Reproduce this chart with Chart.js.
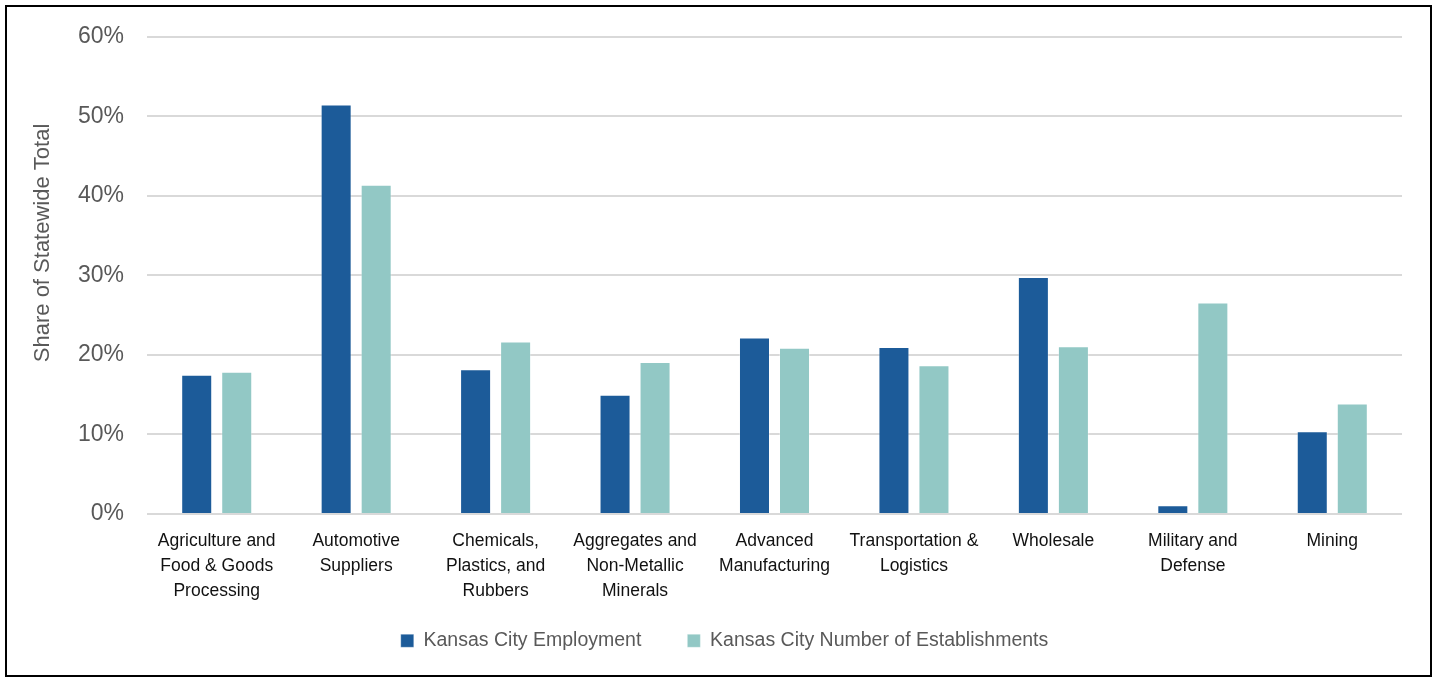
<!DOCTYPE html>
<html>
<head>
<meta charset="utf-8">
<title>Kansas City share of statewide total</title>
<script src="https://cdn.jsdelivr.net/npm/chart.js@4.4.1/dist/chart.umd.min.js"></script>
<style>
  html, body { margin: 0; padding: 0; background: #ffffff; }
  #wrap { position: relative; width: 1437px; height: 677px; overflow: hidden; }
  #c { position: absolute; left: 0; top: 0; width: 1437px; height: 677px; }
  #frame {
    position: absolute; left: 5px; top: 5px; width: 1427px; height: 672px;
    border: 2px solid #000; box-sizing: border-box; pointer-events: none;
  }
</style>
</head>
<body>
<div id="wrap">
  <canvas id="c" width="1437" height="677"></canvas>
  <div id="frame"></div>
</div>
<script>
// Industry groups (multi-line tick labels)
const categories = [
  ["Agriculture and", "Food & Goods", "Processing"],
  ["Automotive", "Suppliers"],
  ["Chemicals,", "Plastics, and", "Rubbers"],
  ["Aggregates and", "Non-Metallic", "Minerals"],
  ["Advanced", "Manufacturing"],
  ["Transportation &", "Logistics"],
  ["Wholesale"],
  ["Military and", "Defense"],
  ["Mining"]
];

// Kansas City share of the statewide total, in percent
const employment     = [17.5, 51.5, 18.2, 15.0, 22.2, 21.0, 29.8, 1.1, 10.4];
const establishments = [17.9, 41.4, 21.7, 19.1, 20.9, 18.7, 21.1, 26.6, 13.9];

const seriesNames = ["Kansas City Employment", "Kansas City Number of Establishments"];
const yMin = 0, yMax = 60, yStep = 10;
const axisTitle = "Share of Statewide Total";

const FONT = '"Liberation Sans", Arial, sans-serif';

// Rotated title beside the value axis
const axisTitlePlugin = {
  id: 'axisTitle',
  afterDraw(chart) {
    const { ctx, chartArea } = chart;
    ctx.save();
    ctx.translate(43, chartArea.top + (chartArea.bottom - chartArea.top) * 0.432);
    ctx.rotate(-Math.PI / 2);
    ctx.font = '22px ' + FONT;
    ctx.fillStyle = '#595959';
    ctx.textAlign = 'center';
    ctx.textBaseline = 'middle';
    ctx.fillText(axisTitle, 0, 0);
    ctx.restore();
  }
};

// Let the three-line category labels run below the axis box without being clipped
const labelRoomPlugin = {
  id: 'labelRoom',
  afterLayout(chart) {
    const x = chart.scales.x;
    x.bottom = x.top + 100;
  }
};

new Chart(document.getElementById('c'), {
  type: 'bar',
  data: {
    labels: categories,
    datasets: [
      {
        label: seriesNames[0],
        data: employment,
        backgroundColor: '#1c5b99',
        borderColor: 'rgba(255,255,255,0.3)',
        borderWidth: 1
      },
      {
        label: seriesNames[1],
        data: establishments,
        backgroundColor: '#92c8c5',
        borderColor: 'rgba(255,255,255,0.3)',
        borderWidth: 1
      }
    ]
  },
  options: {
    responsive: false,
    animation: false,
    devicePixelRatio: 1,
    categoryPercentage: 0.574,
    barPercentage: 0.775,
    layout: { padding: { top: 35, right: 35, bottom: 16.5, left: 47 } },
    plugins: {
      legend: {
        position: 'bottom',
        labels: {
          boxWidth: 13,
          boxHeight: 13,
          padding: 46,
          color: '#595959',
          font: { family: FONT, size: 19.5 }
        }
      },
      tooltip: { enabled: false },
      title: { display: false }
    },
    scales: {
      x: {
        grid: { display: false, drawTicks: false },
        border: { display: false },
        ticks: {
          color: '#111111',
          padding: 14.5,
          autoSkip: false,
          maxRotation: 0,
          minRotation: 0,
          font: { family: FONT, size: 17.5, lineHeight: '25px' }
        },
        afterFit(scale) { scale.height = 71; }
      },
      y: {
        min: yMin,
        max: yMax,
        grid: { color: '#d9d9d9', lineWidth: 2, drawTicks: false },
        border: { display: false },
        ticks: {
          stepSize: yStep,
          color: '#595959',
          padding: 23,
          font: { family: FONT, size: 23 },
          callback: (v) => v + '%'
        },
        afterFit(scale) { scale.width = 100; }
      }
    }
  },
  plugins: [axisTitlePlugin, labelRoomPlugin]
});
</script>
</body>
</html>
